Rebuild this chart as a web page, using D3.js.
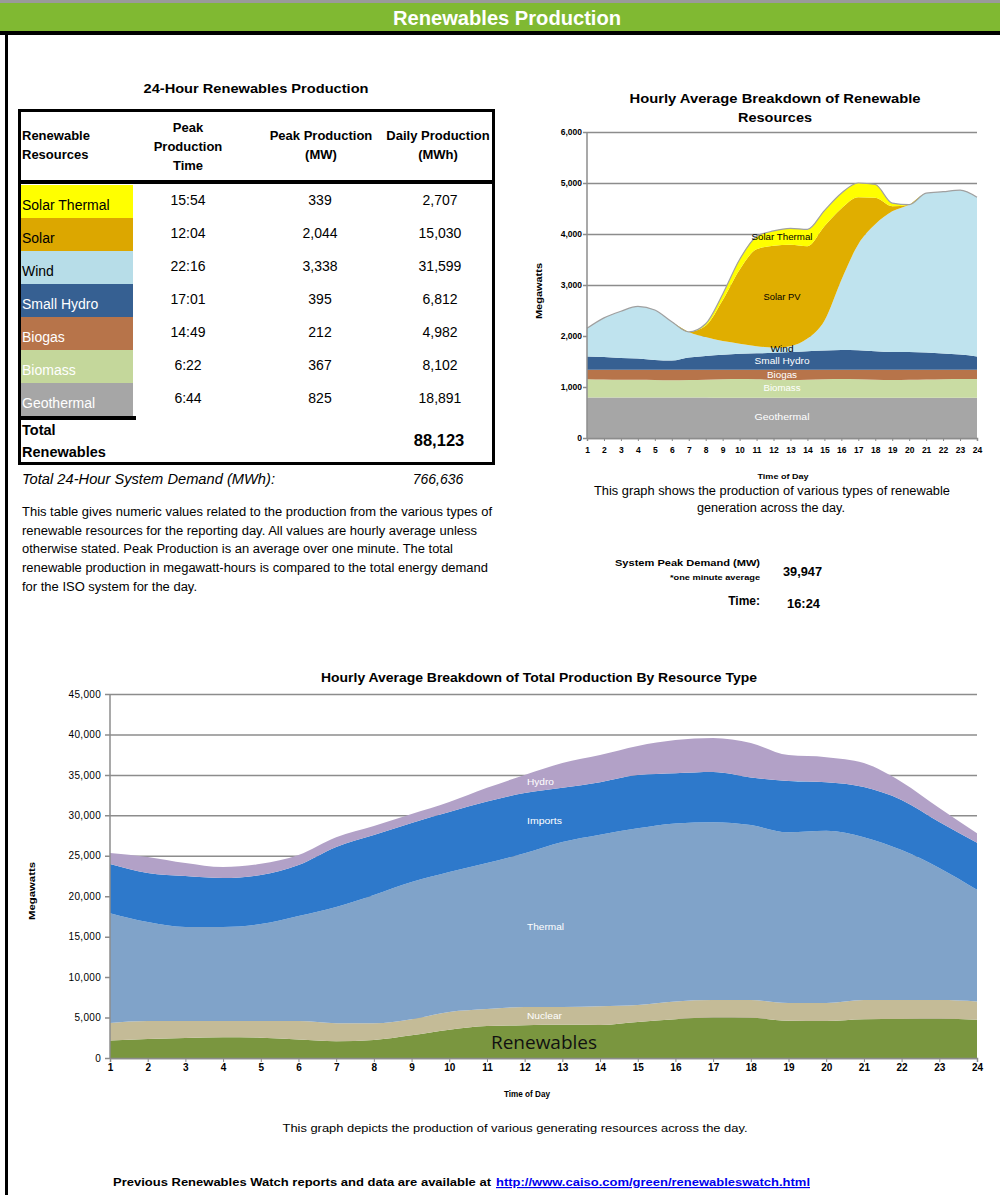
<!DOCTYPE html>
<html>
<head>
<meta charset="utf-8">
<script src="https://cdn.jsdelivr.net/npm/d3@7"></script>
<style>
  body { margin: 0; background: #fff; }
  svg text { font-family: "Liberation Sans", Arial, sans-serif; }
</style>
</head>
<body>
<div id="wrapper"></div>
<script>
// ---- table data ----
const resources = ["Solar Thermal", "Solar", "Wind", "Small Hydro", "Biogas", "Biomass", "Geothermal"];
const peakTimes = ["15:54", "12:04", "22:16", "17:01", "14:49", "6:22", "6:44"];
const peakMW = ["339", "2,044", "3,338", "395", "212", "367", "825"];
const dailyMWh = ["2,707", "15,030", "31,599", "6,812", "4,982", "8,102", "18,891"];
const totalRenewables = "88,123";
const totalDemand = "766,636";
const peakDemand = "39,947";
const peakDemandTime = "16:24";

// ---- renewables chart (MW, hourly) ----
const hours = [1,2,3,4,5,6,7,8,9,10,11,12,13,14,15,16,17,18,19,20,21,22,23,24];
const geothermal = [795,795,795,795,795,795,795,795,790,790,790,790,790,790,790,790,790,790,790,790,790,790,790,790];
const biomass = [355,350,345,345,340,335,340,345,360,365,360,350,345,350,360,365,360,350,345,350,355,360,365,365];
const biogas = [190,195,200,200,205,210,205,200,190,185,190,200,205,200,190,185,190,200,205,200,195,190,185,185];
const smallHydro = [260,250,230,220,190,180,240,270,290,310,320,330,345,360,375,385,380,360,345,345,335,315,295,260];
const wind = [550,765,915,1020,980,760,500,370,270,200,140,100,115,250,585,1375,2080,2490,2760,2890,3125,3175,3225,3120];
const solarPV = [0,0,0,0,0,0,0,220,800,1450,1900,2000,1990,1810,1850,1400,920,520,100,0,0,0,0,0];
const solarThermal = [0,0,0,0,0,0,0,40,120,200,250,290,320,330,310,300,280,260,60,0,0,0,0,0];

// ---- total production chart (MW, hourly) ----
const nuclear = [2180,2220,2090,1990,2060,2290,2220,2060,1980,2190,2100,2240,2190,2310,2090,2200,2170,2190,2190,2220,2370,2340,2310,2280];
const thermal = [13570,12230,11630,11630,11990,12980,14370,15850,16950,17310,18050,19000,20400,21200,21850,22000,21980,21630,21100,21300,20130,18530,16330,13800];
const imports = [6080,6070,6300,6050,6060,6300,7410,7410,7300,7400,7600,7450,6700,6500,6580,6200,6200,5900,6350,6000,6200,6200,5670,5800];
const hydro = [1360,1980,1600,1350,1380,1250,1220,1120,1110,1240,1700,2230,3060,3350,3590,4100,4200,4240,3200,3100,2960,2220,1730,1200];

const renewTicks = [0,1000,2000,3000,4000,5000,6000];
const totalTicks = [0,5000,10000,15000,20000,25000,30000,35000,40000,45000];

const cellColors = ["#ffff00","#dca700","#b7dde8","#366092","#b7744a","#c4d79b","#a6a6a6"];
const cellText = ["#000","#000","#000","#fff","#fff","#fff","#fff"];

const svg = d3.select("#wrapper").append("svg")
  .attr("width", 1000).attr("height", 1195);

// helper: text squeezed/stretched to a given width
function fitText(g, x, y, str, size, width, opts = {}) {
  const t = g.append("text").attr("x", x).attr("y", y)
    .attr("text-anchor", opts.anchor || "start")
    .style("font-size", size + "px").text(str);
  if (width) t.attr("textLength", width).attr("lengthAdjust", "spacingAndGlyphs");
  if (opts.bold) t.style("font-weight", "bold");
  if (opts.italic) t.style("font-style", "italic");
  if (opts.fill) t.attr("fill", opts.fill);
  return t;
}

// header band
svg.append("rect").attr("x",0).attr("y",0).attr("width",1000).attr("height",3).attr("fill","#9a9a9a");
svg.append("rect").attr("x",0).attr("y",3).attr("width",1000).attr("height",28).attr("fill","#80b932");
svg.append("rect").attr("x",0).attr("y",31).attr("width",1000).attr("height",4).attr("fill","#000");
svg.append("rect").attr("x",5).attr("y",31).attr("width",3).attr("height",1164).attr("fill","#000");
fitText(svg, 507, 25, "Renewables Production", 20, 228, {anchor:"middle", bold:true, fill:"#fff"});

// ===== table =====
const tbl = svg.append("g");
fitText(tbl, 256, 93, "24-Hour Renewables Production", 13, 225, {anchor:"middle", bold:true});

const rowTop = 185, rowH = 33;
resources.forEach((r, i) => {
  tbl.append("rect").attr("x",21).attr("y",rowTop + i*rowH).attr("width",112).attr("height",rowH)
    .attr("fill", cellColors[i]);
  tbl.append("text").attr("x",22).attr("y",rowTop + i*rowH + 25)
    .attr("fill", cellText[i]).style("font-size","14px").text(r);
  const vy = rowTop + i*rowH + 20;
  [[188, peakTimes[i]], [320, peakMW[i]], [440, dailyMWh[i]]].forEach(([cx, v]) => {
    tbl.append("text").attr("x",cx).attr("y",vy).attr("text-anchor","middle")
      .style("font-size","14px").text(v);
  });
});
// thick line under colour column
tbl.append("rect").attr("x",20).attr("y",416).attr("width",116).attr("height",4).attr("fill","#000");
// header separator and box
tbl.append("rect").attr("x",19).attr("y",180).attr("width",475).attr("height",4).attr("fill","#000");
tbl.append("rect").attr("x",19.5).attr("y",110.5).attr("width",474).attr("height",353)
  .attr("fill","none").attr("stroke","#000").attr("stroke-width",3);

const hdr = [
  {x:22, anchor:"start", lines:["Renewable","Resources"], y:[140,159]},
  {x:188, anchor:"middle", lines:["Peak","Production","Time"], y:[132,151,170]},
  {x:321, anchor:"middle", lines:["Peak Production","(MW)"], y:[140,159]},
  {x:438, anchor:"middle", lines:["Daily Production","(MWh)"], y:[140,159]}
];
hdr.forEach(h => h.lines.forEach((l, j) => {
  tbl.append("text").attr("x",h.x).attr("y",h.y[j]).attr("text-anchor",h.anchor)
    .style("font-size","13px").style("font-weight","bold").text(l);
}));
fitText(tbl, 22, 435, "Total", 14.5, null, {bold:true});
fitText(tbl, 22, 457, "Renewables", 14.5, null, {bold:true});
fitText(tbl, 439, 446, totalRenewables, 16.5, null, {anchor:"middle", bold:true});
fitText(tbl, 22, 484, "Total 24-Hour System Demand (MWh):", 14, 253, {italic:true});
fitText(tbl, 438, 484, totalDemand, 14, null, {anchor:"middle", italic:true});

const para = [
  "This table gives numeric values related to the production from the various types of",
  "renewable resources for the reporting day. All values are hourly average unless",
  "otherwise stated. Peak Production is an average over one minute. The total",
  "renewable production in megawatt-hours is compared to the total energy demand",
  "for the ISO system for the day."
];
const paraW = [470, 455, 431, 466, 175];
para.forEach((p, i) => fitText(tbl, 22, 516 + i*18.7, p, 12.5, paraW[i]));

// ===== renewables chart =====
const x1 = d3.scaleLinear().domain([1,24]).range([587,977]);
const y1 = d3.scaleLinear().domain([0,6000]).range([438,132]);
const rc = svg.append("g");

fitText(rc, 775, 103, "Hourly Average Breakdown of Renewable", 13.5, 291, {anchor:"middle", bold:true});
fitText(rc, 775, 122, "Resources", 13.5, 74, {anchor:"middle", bold:true});

rc.append("g").attr("transform","translate(587,0)")
  .call(d3.axisLeft(y1).tickValues(renewTicks).tickSize(-(977-587)).tickSizeOuter(0).tickFormat(d3.format(",")))
  .call(g => g.select(".domain").remove())
  .call(g => g.selectAll(".tick line").attr("stroke","#8c8c8c").attr("stroke-width",1.5).attr("x1",-4))
  .call(g => g.selectAll(".tick text").attr("x",-5).style("font-size","8.5px").style("font-weight","bold")
    .style("font-family","'Liberation Sans',Arial,sans-serif"));

const renewRows = hours.map((h, i) => ({
  hour: h, Geothermal: geothermal[i], Biomass: biomass[i], Biogas: biogas[i],
  "Small Hydro": smallHydro[i], Wind: wind[i], "Solar PV": solarPV[i], "Solar Thermal": solarThermal[i]
}));
const renewKeys = ["Geothermal","Biomass","Biogas","Small Hydro","Wind","Solar PV","Solar Thermal"];
const renewColors = ["#a6a6a6","#c9dca3","#b7744a","#366092","#bfe3ee","#e0ae00","#ffff00"];
const renewStack = d3.stack().keys(renewKeys)(renewRows);
const area1 = d3.area().curve(d3.curveMonotoneX)
  .x(d => x1(d.data.hour)).y0(d => y1(d[0])).y1(d => y1(d[1]));
rc.selectAll("path.ra").data(renewStack).join("path").attr("class","ra")
  .attr("d", area1).attr("fill", (d, i) => renewColors[i]);
rc.append("path").datum(renewStack[renewStack.length-1])
  .attr("d", d3.line().curve(d3.curveMonotoneX).x(d => x1(d.data.hour)).y(d => y1(d[1])))
  .attr("fill","none").attr("stroke","#a0a0a0").attr("stroke-width",1.2);

rc.append("g").attr("transform","translate(0,438)")
  .call(d3.axisBottom(x1).tickValues(hours).tickSize(3).tickFormat(d3.format("d")))
  .call(g => g.select(".domain").attr("stroke","#8c8c8c").attr("stroke-width",1.5))
  .call(g => g.selectAll(".tick line").attr("stroke","#8c8c8c"))
  .call(g => g.selectAll(".tick text").attr("y",9).style("font-size","8.5px").style("font-weight","bold")
    .style("font-family","'Liberation Sans',Arial,sans-serif"));
rc.append("line").attr("x1",587).attr("x2",587).attr("y1",132).attr("y2",438)
  .attr("stroke","#8c8c8c").attr("stroke-width",1.5);

const renewLabels = [
  {t:"Solar Thermal", y:240, c:"#000", w:61}, {t:"Solar PV", y:300, c:"#000", w:37},
  {t:"Wind", y:352, c:"#000", w:23}, {t:"Small Hydro", y:364, c:"#fff", w:55},
  {t:"Biogas", y:378, c:"#fff", w:30}, {t:"Biomass", y:391, c:"#fff", w:37},
  {t:"Geothermal", y:420, c:"#fff", w:55}
];
renewLabels.forEach(l => fitText(rc, 782, l.y, l.t, 8.5, l.w, {anchor:"middle", fill:l.c}));
fitText(rc, 0, 0, "Megawatts", 8.5, 56, {anchor:"middle", bold:true})
  .attr("transform","translate(542,291) rotate(-90)");
fitText(rc, 783, 479, "Time of Day", 8, 51, {anchor:"middle", bold:true});
fitText(rc, 772, 495, "This graph shows the production of various types of renewable", 12.5, 356, {anchor:"middle"});
fitText(rc, 771, 512, "generation across the day.", 12.5, 148, {anchor:"middle"});

// peak demand block
fitText(rc, 760, 566, "System Peak Demand (MW)", 9.5, 145, {anchor:"end", bold:true});
fitText(rc, 760, 580, "*one minute average", 6.5, 90, {anchor:"end", bold:true});
fitText(rc, 783, 576, peakDemand, 12.5, 39, {bold:true});
fitText(rc, 760, 605, "Time:", 12, null, {anchor:"end", bold:true});
fitText(rc, 787, 608, peakDemandTime, 12, 33, {bold:true});

// ===== total production chart =====
const x2 = d3.scaleLinear().domain([1,24]).range([110,977]);
const y2 = d3.scaleLinear().domain([0,45000]).range([1058,694]);
const tc = svg.append("g");

fitText(tc, 539, 682, "Hourly Average Breakdown of Total Production By Resource Type", 13.5, 436, {anchor:"middle", bold:true});

tc.append("g").attr("transform","translate(110,0)")
  .call(d3.axisLeft(y2).tickValues(totalTicks).tickSize(-(977-110)).tickSizeOuter(0).tickFormat(d3.format(",")))
  .call(g => g.select(".domain").remove())
  .call(g => g.selectAll(".tick line").attr("stroke","#8c8c8c").attr("stroke-width",1.5).attr("x1",-5))
  .call(g => g.selectAll(".tick text").attr("x",-9).style("font-size","10px").style("letter-spacing","0.3px")
    .style("font-family","'Liberation Sans',Arial,sans-serif"));

const totalRows = hours.map((h, i) => ({
  hour: h,
  Renewables: geothermal[i] + biomass[i] + biogas[i] + smallHydro[i] + wind[i] + solarPV[i] + solarThermal[i],
  Nuclear: nuclear[i], Thermal: thermal[i], Imports: imports[i], Hydro: hydro[i]
}));
const totalKeys = ["Renewables","Nuclear","Thermal","Imports","Hydro"];
const totalColors = ["#7a963f","#c4bb97","#80a3c9","#2e79cb","#b2a1c7"];
const totalStack = d3.stack().keys(totalKeys)(totalRows);
const area2 = d3.area().curve(d3.curveMonotoneX)
  .x(d => x2(d.data.hour)).y0(d => y2(d[0])).y1(d => y2(d[1]));
tc.selectAll("path.ta").data(totalStack).join("path").attr("class","ta")
  .attr("d", area2).attr("fill", (d, i) => totalColors[i]);

tc.append("g").attr("transform","translate(0,1058)")
  .call(d3.axisBottom(x2).tickValues(hours).tickSize(4).tickFormat(d3.format("d")))
  .call(g => g.select(".domain").attr("stroke","#8c8c8c").attr("stroke-width",1.5))
  .call(g => g.selectAll(".tick line").attr("stroke","#8c8c8c"))
  .call(g => g.selectAll(".tick text").attr("y",6).style("font-size","10px").style("font-weight","bold")
    .style("font-family","'Liberation Sans',Arial,sans-serif"));
tc.append("line").attr("x1",110).attr("x2",110).attr("y1",694).attr("y2",1058)
  .attr("stroke","#8c8c8c").attr("stroke-width",1.5);

const totalLabels = [
  {t:"Hydro", y:785, w:27}, {t:"Imports", y:824, w:35}, {t:"Thermal", y:930, w:37}, {t:"Nuclear", y:1019, w:35}
];
totalLabels.forEach(l => fitText(tc, 527, l.y, l.t, 9, l.w, {fill:"#fff"}));
tc.append("text").attr("x",544).attr("y",1049).attr("text-anchor","middle").attr("fill","#111")
  .style("font-family","'Open Sans','Noto Sans',sans-serif").style("font-size","19px").text("Renewables");
fitText(tc, 0, 0, "Megawatts", 9, 58, {anchor:"middle", bold:true})
  .attr("transform","translate(35,891) rotate(-90)");
fitText(tc, 527, 1097, "Time of Day", 8.5, 46, {anchor:"middle", bold:true});
fitText(tc, 515, 1132, "This graph depicts the production of various generating resources across the day.", 11.5, 465, {anchor:"middle"});

// footer
fitText(svg, 113, 1186, "Previous Renewables Watch reports and data are available at", 11.5, 378, {bold:true});
fitText(svg, 496, 1186, "http://www.caiso.com/green/renewableswatch.html", 11.5, 314, {bold:true, fill:"#0000ee"})
  .style("text-decoration","underline");
</script>
</body>
</html>
